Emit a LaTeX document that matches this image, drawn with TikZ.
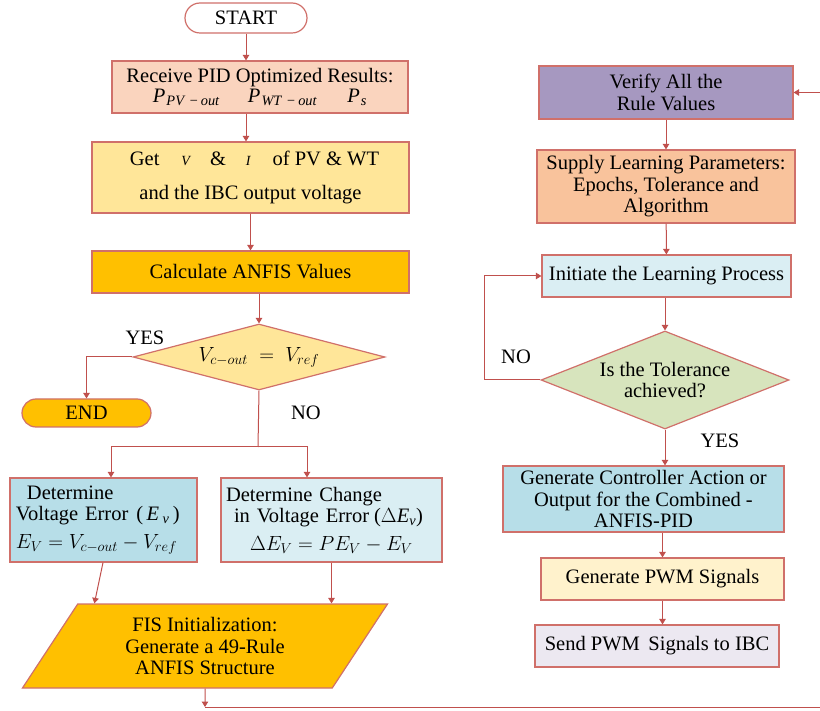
\documentclass[tikz,border=0pt]{standalone}
\usepackage{fix-cm}
\usepackage{fontspec}
\setmainfont{Liberation Serif}
\usetikzlibrary{arrows.meta,shapes.geometric,calc}
\definecolor{edgec}{HTML}{D0706A}
\definecolor{arrc}{HTML}{C0504D}
\definecolor{peach}{HTML}{FAD4BE}
\definecolor{lyellow}{HTML}{FFE699}
\definecolor{gold}{HTML}{FFC000}
\definecolor{mblue}{HTML}{B7DEE8}
\definecolor{pblue}{HTML}{DAEEF3}
\definecolor{purp}{HTML}{A698C0}
\definecolor{orng}{HTML}{F9C39C}
\definecolor{lgreen}{HTML}{D7E4BD}
\definecolor{cream}{HTML}{FFF2CC}
\definecolor{lav}{HTML}{ECE8F1}
\newcommand\psub[2]{\textit{#1}\textsubscript{\kern1pt\textit{#2}}}
\begin{document}
\begin{tikzpicture}[x=1pt,y=-1pt,
  font=\fontsize{20.5}{21.5}\selectfont,
  box/.style={draw=edgec, line width=1.2pt, rectangle, inner sep=2pt, align=center},
  arr/.style={draw=arrc, line width=1pt, -{Triangle[width=6.5pt,length=5.5pt]}},
  ln/.style={draw=arrc, line width=1pt},
  lbl/.style={inner sep=0pt}]
\useasboundingbox (0,0) rectangle (820,711);

% left column
\node[box, fill=white, minimum width=122pt, minimum height=30pt, rounded corners=15pt] (start) at (246,18) {START};
\node[box, fill=peach, minimum width=296pt, minimum height=52pt] (recv) at (260,87)
  {Receive PID Optimized Results:\\[-1pt]
   \psub{P}{PV\,\,−\,out}\hspace{28pt}\psub{P}{WT\,\,−\,out}\hspace{30pt}\psub{P}{s}};
\node[box, fill=lyellow, minimum width=317pt, minimum height=71pt] (get) at (250.5,177.5)
  {\hspace*{8pt}Get\hspace{22pt}{\fontsize{14}{14}\selectfont\itshape V}\hspace{20pt}\&\hspace{20pt}{\fontsize{14}{14}\selectfont\itshape I}\hspace{22pt}of PV \& WT\\[12pt]
   and the IBC output voltage};
\node[box, fill=gold, minimum width=317pt, minimum height=42pt] (calc) at (250.5,272) {Calculate ANFIS Values};
\node[box, diamond, aspect=3.8, fill=lyellow, minimum width=252pt, minimum height=66pt, inner sep=0pt] (dec1) at (259,357)
  {$V_{c-out} \;=\; V_{ref}$};
\node[box, fill=gold, minimum width=129pt, minimum height=28pt, rounded corners=14pt] (end) at (86.5,413) {END};
\node[box, fill=mblue, minimum width=187pt, minimum height=84pt, align=left, text width=175pt, inner xsep=6pt] (dve) at (103.5,520)
  {\hspace*{11pt}Determine\\
   Voltage Error\hspace{8pt}(\,\textit{E}\,\textsubscript{\textit{v}}\,)\\[6pt]
   $E_V = V_{c-out} - V_{ref}$};
\node[box, fill=pblue, minimum width=221pt, minimum height=84pt, align=left, text width=211pt, inner xsep=5pt] (dce) at (331.5,520)
  {Determine Change\\
   \hspace*{8pt}in Voltage Error\hspace{5pt}($\Delta$\textit{E}\textsubscript{\textit{v}})\\[6pt]
   \hspace*{24pt}$\Delta E_V = PE_V - E_V$};
\node[box, trapezium, trapezium left angle=60, trapezium right angle=120, trapezium stretches=true,
      fill=gold, minimum width=366pt, minimum height=84pt] (fis) at (205,646)
  {FIS Initialization:\\Generate a 49-Rule\\ANFIS Structure};

% right column
\node[box, fill=purp, minimum width=254pt, minimum height=53pt] (verify) at (666,92.5) {Verify All the\\Rule Values};
\node[box, fill=orng, minimum width=258pt, minimum height=73pt] (supply) at (666,186.5)
  {Supply Learning Parameters:\\Epochs, Tolerance and\\Algorithm};
\node[box, fill=pblue, minimum width=249pt, minimum height=42pt] (init) at (666.5,276) {Initiate the Learning Process};
\node[box, diamond, aspect=2.53, fill=lgreen, minimum width=248pt, minimum height=98pt, inner sep=0pt] (dec2) at (665,380)
  {Is the Tolerance\\achieved?};
\node[box, fill=mblue, minimum width=281pt, minimum height=66pt] (gca) at (643.5,499)
  {Generate Controller Action or\\Output for the Combined -\\ANFIS-PID};
\node[box, fill=cream, minimum width=243pt, minimum height=42pt] (pwm) at (662.5,579) {Generate PWM Signals};
\node[box, fill=lav, minimum width=244pt, minimum height=42pt] (send) at (657,646) {Send PWM\, Signals to IBC};

% labels
\node[lbl] (yes1) at (145,338) {YES};
\node[lbl] (no1) at (306,413) {NO};
\node[lbl] (no2) at (516,357) {NO};
\node[lbl] (yes2) at (720,441) {YES};

% connectors left
\draw[arr] (start) -- (start.south |- recv.north);
\draw[arr] (recv.south -| start.south) -- (start.south |- get.north);
\draw[arr] (get) -- (calc);
\draw[arr] (calc.south -| dec1.north) -- (dec1.north);
\draw[arr] (dec1.west) -| (end.north);
\coordinate (split) at (258,447);
\draw[ln] (dec1.south) -- (split);
\draw[arr] (split) -| ($(dve.north)+(7.5,0)$);
\draw[arr] (split) -| ($(dce.north)+(-24.5,0)$);
\draw[arr] ($(dve.south)+(-0.5,0)$) -- ($(fis.top left corner)+(17,0)$);
\draw[arr] (dce.south) -- (dce.south |- fis.top left corner);
\coordinate (b1) at (205,707);
\coordinate (b2) at (820,707);
\draw[arr] (fis.south) -- (b1);
\draw[ln] (b1) -- (b2);

% connectors right
\coordinate (r1) at (820,92.5);
\draw[arr] (r1) -- (verify.east);
\draw[arr] (verify) -- (supply);
\draw[arr] (supply) -- (init);
\draw[arr] (init.south -| dec2.north) -- (dec2.north);
\coordinate (loopc) at (484,380);
\draw[arr] (dec2.west) -- (loopc) |- (init.west);
\draw[arr] (dec2.south) -- (dec2.south |- gca.north);
\draw[arr] (gca.south -| pwm.north) -- (pwm.north);
\draw[arr] (pwm.south) -- (pwm.south |- send.north);
\end{tikzpicture}
\end{document}
